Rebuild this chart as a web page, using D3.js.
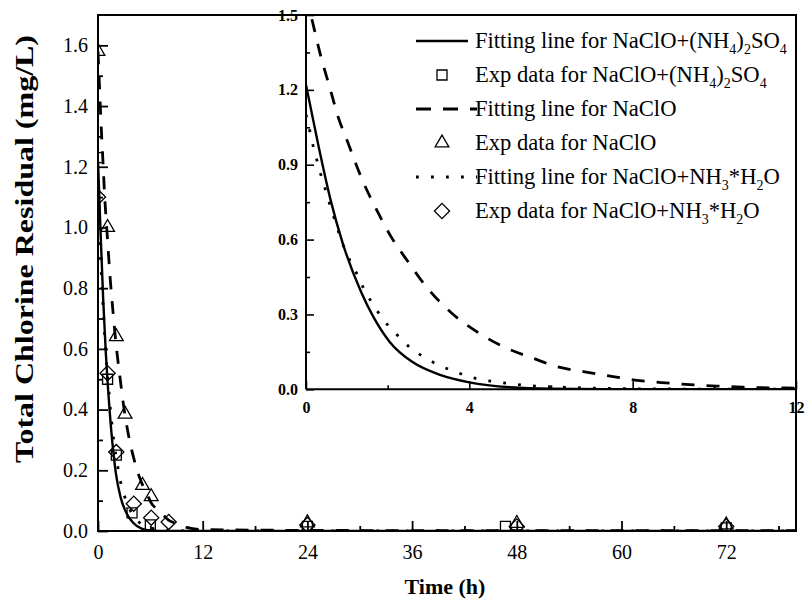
<!DOCTYPE html>
<html><head><meta charset="utf-8">
<script src="https://cdn.jsdelivr.net/npm/d3@7"></script>
<style>
body{margin:0;background:#fff}
svg{display:block}
text{font-family:"Liberation Serif","Times New Roman",serif;fill:#000}
</style>
</head><body>
<svg id="c" width="805" height="604"></svg>
<script>
// ---------- data ----------
// fitting line NaClO+(NH4)2SO4 (solid)
const fitAS_t = [0,0.3,0.6,0.9,1.35,1.65,2.05,2.6,3.3,4,5,6,8,12,24,48,80];
const fitAS_v = [1.22,0.98,0.76,0.585,0.39,0.29,0.19,0.11,0.057,0.028,0.008,0.002,0,0,0,0,0];
// fitting line NaClO (dashed)
const fitNa_t = [0,0.12,0.343,0.588,0.79,1.0,1.39,1.73,2.06,2.5,2.96,3.55,4.18,4.83,5.57,6.14,6.79,7.45,8.05,8.7,9.4,10.06,10.67,11.32,12,24,48,80];
const fitNa_v = [1.58,1.5,1.347,1.206,1.09,1.0,0.835,0.719,0.618,0.511,0.408,0.308,0.231,0.171,0.124,0.091,0.071,0.053,0.037,0.027,0.019,0.013,0.009,0.006,0.005,0.002,0.001,0.001];
// fitting line NaClO+NH3*H2O (dotted)
const fitNH_t = [0,0.07,0.15,0.245,0.343,0.44,0.7,0.914,1.08,1.26,1.43,1.65,1.89,2.22,2.55,2.91,3.28,3.65,4.0,4.36,4.73,5.08,5.5,6,7,8,12,24,48,80];
const fitNH_v = [1.1,1.053,0.992,0.932,0.872,0.819,0.68,0.576,0.515,0.458,0.398,0.338,0.28,0.22,0.167,0.127,0.095,0.071,0.05,0.037,0.028,0.021,0.014,0.01,0.005,0.002,0,0,0,0];
// experimental data
const expAS_t = [0,1.1,2.1,3.9,6,24,46.7,72];
const expAS_v = [1.23,0.5,0.25,0.06,0.02,0.015,0.015,0.01];
const expNa_t = [0,1.1,2.1,3.1,5.1,6.1,24,48,72];
const expNa_v = [1.58,1.0,0.64,0.385,0.15,0.113,0.027,0.025,0.02];
const expNH_t = [0,1.1,2.1,4.1,6.1,8.1,24,48,72];
const expNH_v = [1.1,0.52,0.26,0.09,0.044,0.03,0.02,0.015,0.015];
// ticks
const xTicks = [0,12,24,36,48,60,72];
const xMinor = [6,18,30,42,54,66,78];
const yTicks = [0,0.2,0.4,0.6,0.8,1.0,1.2,1.4,1.6];
const yMinor = [0.1,0.3,0.5,0.7,0.9,1.1,1.3,1.5];
const ixTicks = [0,4,8,12];
const ixMinor = [2,6,10];
const iyTicks = [0,0.3,0.6,0.9,1.2,1.5];
const iyMinor = [0.15,0.45,0.75,1.05,1.35];
const legendLabels = [
  ["Fitting line for NaClO+(NH",["4"],")",["2"],"SO",["4"]],
  ["Exp data for NaClO+(NH",["4"],")",["2"],"SO",["4"]],
  ["Fitting line for NaClO"],
  ["Exp data for NaClO"],
  ["Fitting line for NaClO+NH",["3"],"*H",["2"],"O"],
  ["Exp data for NaClO+NH",["3"],"*H",["2"],"O"]
];

// ---------- layout ----------
const svg = d3.select('#c');
const M = {l:98, r:796, t:15, b:531};
const I = {l:306, r:796, t:15, b:389.3};
const x = d3.scaleLinear().domain([0,80]).range([M.l,M.r]);
const y = d3.scaleLinear().domain([0,1.7]).range([M.b,M.t]);
const xi = d3.scaleLinear().domain([0,12]).range([I.l,I.r]);
const yi = d3.scaleLinear().domain([0,1.5]).range([I.b,I.t]);

const defs = svg.append('defs');
defs.append('clipPath').attr('id','cm').append('rect')
  .attr('x',M.l).attr('y',M.t).attr('width',M.r-M.l).attr('height',M.b-M.t);
defs.append('clipPath').attr('id','ci').append('rect')
  .attr('x',I.l).attr('y',I.t).attr('width',I.r-I.l).attr('height',I.b-I.t);

const zip = (t,v) => t.map((d,i)=>[d,v[i]]);
const fits = [
  {d:zip(fitAS_t,fitAS_v), dash:null, w:2.4},
  {d:zip(fitNa_t,fitNa_v), dash:"13,12", w:2.8},
  {d:zip(fitNH_t,fitNH_v), dash:"2.8,12.2", w:2.8}
];
const exps = [
  {d:zip(expAS_t,expAS_v), sym:'sq'},
  {d:zip(expNa_t,expNa_v), sym:'tri'},
  {d:zip(expNH_t,expNH_v), sym:'dia'}
];
const symPath = {
  sq: d3.symbol().type(d3.symbolSquare).size(100)(),
  tri: d3.symbol().type(d3.symbolTriangle).size(82)(),
  dia: d3.symbol().type(d3.symbolSquare).size(115)()
};
const symRot = {sq:0, tri:0, dia:45};

// ---------- main plot ----------
const gm = svg.append('g');
const gmc = gm.append('g').attr('clip-path','url(#cm)');
fits.forEach(f=>{
  const line = d3.line().x(d=>x(d[0])).y(d=>y(d[1])).curve(d3.curveMonotoneX);
  gmc.append('path').attr('d',line(f.d)).attr('fill','none').attr('stroke','#000')
    .attr('stroke-width',f.w).attr('stroke-dasharray',f.dash);
});
exps.forEach(e=>{
  gmc.selectAll(null).data(e.d).enter().append('path')
    .attr('d',symPath[e.sym])
    .attr('transform',d=>`translate(${x(d[0])},${y(d[1])}) rotate(${symRot[e.sym]})`)
    .attr('fill','none').attr('stroke','#000').attr('stroke-width',1.3);
});

// main axes
const ax = gm.append('g').attr('transform',`translate(0,${M.b})`)
  .call(d3.axisBottom(x).tickValues(xTicks).tickSize(-10).tickPadding(14).tickFormat(d3.format('d')));
const axm = gm.append('g').attr('transform',`translate(0,${M.b})`)
  .call(d3.axisBottom(x).tickValues(xMinor).tickSize(-5).tickFormat(''));
const ay = gm.append('g').attr('transform',`translate(${M.l},0)`)
  .call(d3.axisLeft(y).tickValues(yTicks).tickSize(-10).tickPadding(10).tickFormat(d3.format('.1f')));
const aym = gm.append('g').attr('transform',`translate(${M.l},0)`)
  .call(d3.axisLeft(y).tickValues(yMinor).tickSize(-5).tickFormat(''));
[ax,axm,ay,aym].forEach(a=>{
  a.select('.domain').remove();
  a.selectAll('line').attr('stroke','#000').attr('stroke-width',1.8);
  a.selectAll('text').attr('font-size',20).attr('font-family','"Liberation Serif",serif').attr('fill','#000');
});

// ---------- inset ----------
const gi = svg.append('g');
gi.append('rect').attr('x',I.l).attr('y',I.t).attr('width',I.r-I.l).attr('height',I.b-I.t).attr('fill','#fff');
const gic = gi.append('g').attr('clip-path','url(#ci)');
fits.forEach(f=>{
  const line = d3.line().x(d=>xi(d[0])).y(d=>yi(d[1])).curve(d3.curveMonotoneX);
  gic.append('path').attr('d',line(f.d.filter(d=>d[0]<=12))).attr('fill','none').attr('stroke','#000')
    .attr('stroke-width',f.w).attr('stroke-dasharray',f.dash);
});
const iax = gi.append('g').attr('transform',`translate(0,${I.b})`)
  .call(d3.axisBottom(xi).tickValues(ixTicks).tickSize(-8).tickPadding(12).tickFormat(d3.format('d')));
const iaxm = gi.append('g').attr('transform',`translate(0,${I.b})`)
  .call(d3.axisBottom(xi).tickValues(ixMinor).tickSize(-4).tickFormat(''));
const iay = gi.append('g').attr('transform',`translate(${I.l},0)`)
  .call(d3.axisLeft(yi).tickValues(iyTicks).tickSize(-8).tickPadding(8).tickFormat(d3.format('.1f')));
const iaym = gi.append('g').attr('transform',`translate(${I.l},0)`)
  .call(d3.axisLeft(yi).tickValues(iyMinor).tickSize(-4).tickFormat(''));
[iax,iaxm,iay,iaym].forEach(a=>{
  a.select('.domain').remove();
  a.selectAll('line').attr('stroke','#000').attr('stroke-width',1.6);
  a.selectAll('text').attr('font-size',16).attr('font-weight','bold').attr('font-family','"Liberation Serif",serif').attr('fill','#000');
});
gi.append('line').attr('x1',I.l).attr('x2',I.l).attr('y1',I.t).attr('y2',I.b).attr('stroke','#000').attr('stroke-width',2);
gi.append('line').attr('x1',I.l).attr('x2',I.r).attr('y1',I.b).attr('y2',I.b).attr('stroke','#000').attr('stroke-width',2);

// main frame on top
svg.append('rect').attr('x',M.l).attr('y',M.t).attr('width',M.r-M.l).attr('height',M.b-M.t)
  .attr('fill','none').attr('stroke','#000').attr('stroke-width',2);

// ---------- legend ----------
const lg = svg.append('g');
const rowY = d3.scalePoint().domain(d3.range(6)).range([41,211]);
const legendKinds = [
  {type:'line', f:fits[0]}, {type:'sym', s:'sq'},
  {type:'line', f:fits[1]}, {type:'sym', s:'tri'},
  {type:'line', f:fits[2]}, {type:'sym', s:'dia'}
];
legendKinds.forEach((k,i)=>{
  const yy = rowY(i);
  if(k.type==='line'){
    lg.append('line').attr('x1',416).attr('x2',i===0?468:477).attr('y1',yy).attr('y2',yy)
      .attr('stroke','#000').attr('stroke-width',k.f.w+0.3)
      .attr('stroke-dasharray',i===2?"15,12":(i===4?"2.8,12.2":null));
  } else {
    lg.append('path').attr('d',symPath[k.s])
      .attr('transform',`translate(442,${yy}) rotate(${symRot[k.s]})`)
      .attr('fill','none').attr('stroke','#000').attr('stroke-width',1.3);
  }
  const t = lg.append('text').attr('x',475).attr('y',yy+7).attr('font-size',22.6);
  let shift = 0;
  legendLabels[i].forEach(p=>{
    if(typeof p==='string'){
      t.append('tspan').attr('dy',-shift).text(p); shift = 0;
    } else {
      t.append('tspan').attr('font-size',14).attr('dy',6-shift).text(p[0]); shift = 6;
    }
  });
});

// ---------- titles ----------
svg.append('text').attr('transform','translate(33,249) rotate(-90) scale(1,0.82)')
  .attr('text-anchor','middle').attr('font-size',32).attr('font-weight','bold')
  .text('Total Chlorine Residual (mg/L)');
svg.append('text').attr('x',445).attr('y',594).attr('text-anchor','middle')
  .attr('font-size',22).attr('font-weight','bold').text('Time (h)');
</script>
</body></html>
